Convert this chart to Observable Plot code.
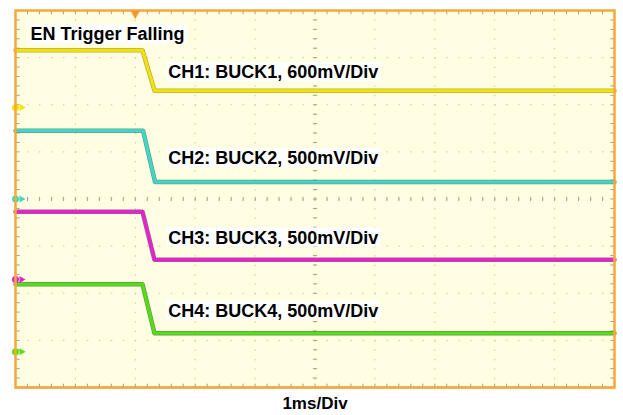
<!DOCTYPE html>
<html>
<head>
<meta charset="utf-8">
<script src="https://cdn.jsdelivr.net/npm/d3@7"></script>
<script src="https://cdn.jsdelivr.net/npm/@observablehq/plot@0.6"></script>
<style>
  html, body { margin: 0; padding: 0; background: #ffffff; }
  #chart svg { display: block; }
</style>
</head>
<body>
<div id="chart"></div>
<script>
// Scope channels: rail name, vertical scale, ground marker (divisions from centre)
const channels = ["CH1", "CH2", "CH3", "CH4"];
const rails = ["BUCK1", "BUCK2", "BUCK3", "BUCK4"];
const scaleMv = [600, 500, 500, 500];
const groundDiv = [1.94, 0.0, -1.71, -3.24];
// Rail voltages before and after EN falls (V)
const highV = [0.73, 0.725, 0.72, 0.715];
const lowV = [0.215, 0.18, 0.21, 0.195];
// Time base: 1 ms/div, trigger at 0 ms, ramp start/end of each rail (ms)
const timeRange = [-2, 8];
const fallStart = [0.12, 0.13, 0.12, 0.12];
const fallEnd = [0.32, 0.33, 0.32, 0.32];
const timeBase = "1ms/Div";
const title = "EN Trigger Falling";

const traceColors = ["#f4e300", "#3fd8c6", "#e622cf", "#52e014"];
const fringeColors = ["#9a8c10", "#1e7a72", "#7a1072", "#2a6e10"];

// Convert a voltage on channel i to screen divisions
const toDiv = (i, v) => groundDiv[i] + (v * 1000) / scaleMv[i];

// Trace vertices for each channel
const traces = channels.flatMap((ch, i) => [
  {ch, i, t: timeRange[0], div: toDiv(i, highV[i])},
  {ch, i, t: fallStart[i], div: toDiv(i, highV[i])},
  {ch, i, t: fallEnd[i], div: toDiv(i, lowV[i])},
  {ch, i, t: timeRange[1], div: toDiv(i, lowV[i])}
]);

const idx = channels.map((_, i) => i);
const majorX = d3.range(timeRange[0] + 1, timeRange[1]);
const majorY = d3.range(-3, 4);
const minorX = d3.range(0, 51).map(k => timeRange[0] + k * 0.2);
const minorY = d3.range(0, 41).map(k => -4 + k * 0.2);
const centerT = (timeRange[0] + timeRange[1]) / 2;

const tickColor = "#aaa285";
const gridColor = "#cdc8a6";
const font = "'Liberation Sans', Arial, Helvetica, sans-serif";

const chart = Plot.plot({
  width: 623,
  height: 415,
  marginLeft: 15,
  marginRight: 9,
  marginTop: 10,
  marginBottom: 28,
  x: {domain: timeRange, axis: null},
  y: {domain: [-4, 4], axis: null},
  style: {fontFamily: font, background: "#ffffff", overflow: "visible"},
  marks: [
    Plot.frame({fill: "#fffde2", stroke: null}),
    // dotted graticule
    Plot.ruleX(majorX, {stroke: gridColor, strokeDasharray: "1.5,7.93"}),
    Plot.ruleY(majorY, {stroke: gridColor, strokeDasharray: "1.5,10.48"}),
    // centre-line minor ticks
    Plot.link(minorX, {x1: d => d, x2: d => d, y1: -0.045, y2: 0.045, stroke: tickColor, strokeWidth: 1}),
    Plot.link(minorY, {y1: d => d, y2: d => d, x1: centerT - 0.035, x2: centerT + 0.035, stroke: tickColor, strokeWidth: 1}),
    // edge minor ticks
    Plot.link(minorX, {x1: d => d, x2: d => d, y1: 4, y2: 3.92, stroke: tickColor}),
    Plot.link(minorX, {x1: d => d, x2: d => d, y1: -4, y2: -3.92, stroke: tickColor}),
    Plot.link(minorY, {y1: d => d, y2: d => d, x1: timeRange[0], x2: timeRange[0] + 0.07, stroke: tickColor}),
    Plot.link(minorY, {y1: d => d, y2: d => d, x1: timeRange[1], x2: timeRange[1] - 0.07, stroke: tickColor}),
    // traces: dark noise fringe under the bright trace
    Plot.line(traces, {x: "t", y: "div", z: "ch", stroke: d => fringeColors[d.i], strokeWidth: 4.5, strokeOpacity: 0.7}),
    Plot.line(traces, {x: "t", y: "div", z: "ch", stroke: d => traceColors[d.i], strokeWidth: 3}),
    // ground-level markers on the left edge
    Plot.dot(idx, {x: timeRange[0], y: i => groundDiv[i], r: 3.5, fill: i => traceColors[i], stroke: null}),
    Plot.dot(idx, {x: timeRange[0], y: i => groundDiv[i], symbol: "triangle", rotate: 90, r: 2.6, dx: 6, fill: i => traceColors[i], stroke: null}),
    // bottom edge line and border
    Plot.ruleY([-4], {stroke: "#5a5548", strokeWidth: 1.5}),
    Plot.frame({stroke: "#f5a93a", strokeWidth: 2.5}),
    // trigger position marker
    Plot.dot([0], {x: d => d, y: 4, symbol: "triangle", rotate: 180, r: 3.5, dy: 3, fill: "#f39a2a", stroke: null}),
    // channel notes
    Plot.text(idx, {
      x: 0.55,
      y: i => (toDiv(i, highV[i]) + toDiv(i, lowV[i])) / 2,
      dy: 2,
      text: i => `${channels[i]}: ${rails[i]}, ${scaleMv[i]}mV/Div`,
      textAnchor: "start",
      fontSize: 18,
      fontWeight: "bold",
      fill: "#000000",
      ariaDescription: "boxed note"
    }),
    Plot.text([title], {
      frameAnchor: "top-left",
      dx: 15,
      dy: 17,
      textAnchor: "start",
      fontSize: 18,
      fontWeight: "bold",
      fill: "#000000",
      ariaDescription: "boxed note"
    }),
    Plot.text([timeBase], {
      frameAnchor: "bottom",
      dy: 21,
      fontSize: 17,
      fontWeight: "bold",
      fill: "#000000"
    })
  ]
});

document.getElementById("chart").appendChild(chart);

// white boxes behind the notes
chart.querySelectorAll('g[aria-description="boxed note"] text').forEach(t => {
  const b = t.getBBox();
  const r = document.createElementNS("http://www.w3.org/2000/svg", "rect");
  r.setAttribute("x", b.x - 2);
  r.setAttribute("y", b.y);
  r.setAttribute("width", b.width + 4);
  r.setAttribute("height", b.height - 1);
  r.setAttribute("fill", "#ffffff");
  const tr = t.getAttribute("transform");
  if (tr) r.setAttribute("transform", tr);
  t.parentNode.insertBefore(r, t);
});
</script>
</body>
</html>
